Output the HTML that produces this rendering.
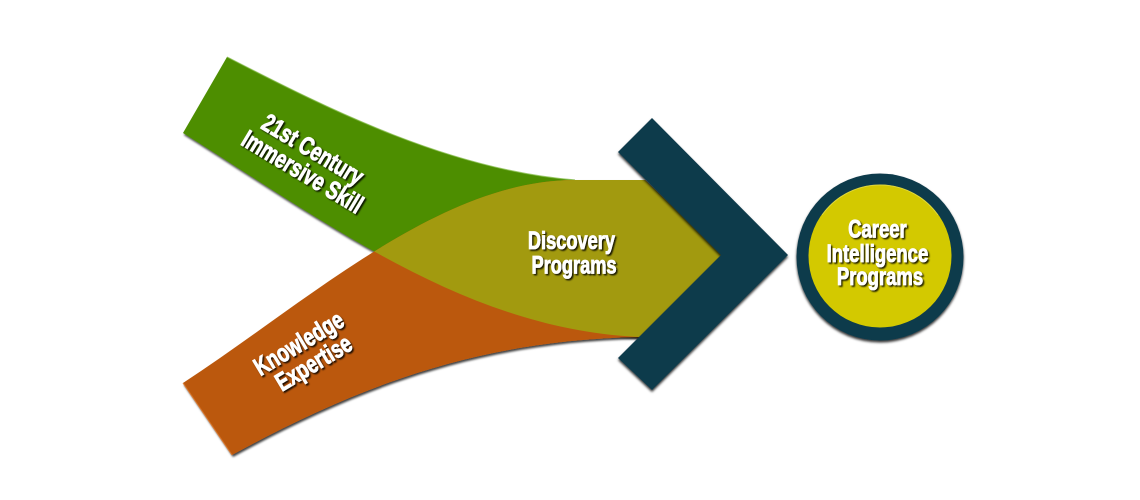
<!DOCTYPE html>
<html>
<head>
<meta charset="utf-8">
<style>
  html, body { margin: 0; padding: 0; background: #ffffff; }
  body { width: 1140px; height: 500px; overflow: hidden; }
  svg { display: block; }
</style>
</head>
<body>
<svg width="1140" height="500" viewBox="0 0 1140 500" xmlns="http://www.w3.org/2000/svg">
  <defs>
    <filter id="sh" x="-10%" y="-10%" width="130%" height="130%">
      <feDropShadow dx="1" dy="2" stdDeviation="1" flood-color="#000" flood-opacity="0.75"/>
    </filter>
    <filter id="sh2" x="-10%" y="-10%" width="130%" height="130%">
      <feDropShadow dx="0" dy="2" stdDeviation="1.2" flood-color="#000" flood-opacity="0.8"/>
    </filter>
    <filter id="ts" x="-10%" y="-10%" width="130%" height="130%">
      <feDropShadow dx="1.5" dy="1.5" stdDeviation="0.7" flood-color="#000" flood-opacity="0.85"/>
    </filter>
    <clipPath id="gclip">
      <path d="M227,57 C330,110 450,170 575,180 L645,180 L724,256 L645,337 L640,337 C470,330 330,225 183,133 Z"/>
    </clipPath>
  </defs>

  <!-- green ribbon -->
  <path filter="url(#sh)" fill="#4e8e06"
        d="M227,57 C330,110 450,170 575,180 L645,180 L724,256 L645,337 L640,337 C470,330 330,225 183,133 Z"/>
  <path fill="none" stroke="#7cb83c" stroke-width="1.2" opacity="0.7"
        d="M227,57 C330,110 450,170 575,180"/>

  <!-- orange ribbon -->
  <path filter="url(#sh)" fill="#bb5911"
        d="M183,383 C310,300 440,180 575,180 L645,180 L724,256 L645,337 L640,337 C480,340 360,385 232,455 Z"/>
  <path fill="none" stroke="#e0782a" stroke-width="1.2" opacity="0.7" d="M183,383 L232,455"/>

  <!-- olive overlap -->
  <path fill="#a29a0f" clip-path="url(#gclip)"
        d="M183,383 C310,300 440,180 575,180 L645,180 L724,256 L645,337 L640,337 C480,340 360,385 232,455 Z"/>

  <!-- chevron -->
  <polygon filter="url(#sh2)" fill="#0e3a4b"
           points="652,118 788,255 652,390 618,358 721,255 618,152"/>

  <!-- circle -->
  <circle cx="880" cy="257" r="83.5" fill="#0e3a4b" filter="url(#sh2)"/>
  <circle cx="880" cy="256" r="71.5" fill="#d3c900"/>
  <path d="M822,215 A71,71 0 0 1 938,215" fill="none" stroke="#eee87a" stroke-width="1" opacity="0.5"/>

  <!-- text -->
  <g filter="url(#ts)" fill="#ffffff" stroke="#ffffff" stroke-width="0.8"
     font-family="'Liberation Sans', Arial, sans-serif" font-weight="bold" font-size="24" text-anchor="middle">
    <g transform="translate(309,161) rotate(31)">
      <text transform="scale(0.78,1.06)">
        <tspan x="0" y="-3">21st Century</tspan>
        <tspan x="0" y="20">Immersive Skill</tspan>
      </text>
    </g>
    <g transform="translate(307,352) rotate(-31)">
      <text transform="scale(0.78,1.06)">
        <tspan x="0" y="-3">Knowledge</tspan>
        <tspan x="0" y="20">Expertise</tspan>
      </text>
    </g>
    <g transform="translate(574,0)">
      <text transform="scale(0.76,1.06)">
        <tspan x="0" y="235">Discovery</tspan>
        <tspan x="0" y="258">Programs</tspan>
      </text>
    </g>
    <g transform="translate(880,0)">
      <text transform="scale(0.77,1.06)">
        <tspan x="0" y="224">Career</tspan>
        <tspan x="0" y="247">Intelligence</tspan>
        <tspan x="0" y="269">Programs</tspan>
      </text>
    </g>
  </g>
</svg>
</body>
</html>
